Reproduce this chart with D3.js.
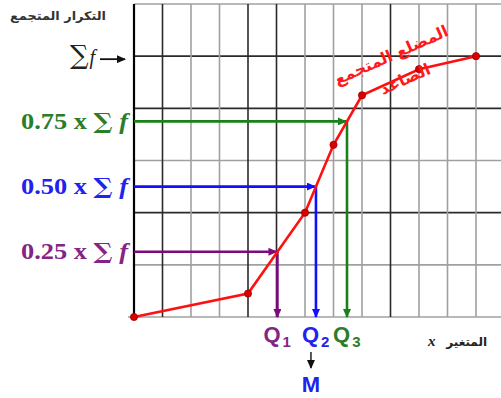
<!DOCTYPE html>
<html>
<head>
<meta charset="utf-8">
<script src="https://cdn.jsdelivr.net/npm/d3@7"></script>
<style>
  body { margin: 0; background: #fff; }
  svg { display: block; }
</style>
</head>
<body>
<div id="chart"></div>
<script>
// values
const xValues = [0, 4, 6, 7, 8, 10, 12];          // class boundaries (grid units)
const cumFreq = [0, 9, 40, 66, 85, 95, 100];      // ascending cumulative frequency
const totalFreq = 100;                            // sum f
const quartileShares = [0.25, 0.50, 0.75];
const shareLabels = ["0.25 x", "0.50 x", "0.75 x"];
const quartileSubs = ["1", "2", "3"];
const xGridTicks = d3.range(0, 13);
const yGridTicks = d3.range(0, 121, 20);

const yTitle = "التكرار المتجمع";
const xTitle = "المتغير";
const curveTitle1 = "المضلع المتجمع";
const curveTitle2 = "الصاعد";

const width = 501, height = 398;
const lineColors = ["#7d0a7d", "#1010ff", "#1a801a"];
const textColors = ["#842484", "#2222ee", "#2a7d2a"];

const x = d3.scaleLinear().domain([0, 12]).range([134, 476]);
const y = d3.scaleLinear().domain([0, 120]).range([317, 4]);

const svg = d3.select("#chart").append("svg")
    .attr("width", width)
    .attr("height", height);

// arrow heads, one per colour
const defs = svg.append("defs");
const markerColors = lineColors.concat(["#111"]);
markerColors.forEach((c, i) => {
    defs.append("marker")
        .attr("id", "arr" + i)
        .attr("markerUnits", "userSpaceOnUse")
        .attr("markerWidth", 9).attr("markerHeight", 8)
        .attr("refX", 8).attr("refY", 4)
        .attr("orient", "auto")
        .append("path")
        .attr("d", "M0,0 L9,4 L0,8 Z")
        .attr("fill", c);
});

// grid
const darkCols = [0, 1, 4, 5, 9];
const darkRows = [100, 80, 40];
svg.append("g").selectAll("line")
    .data(yGridTicks)
    .join("line")
    .attr("x1", d => d === 0 ? 128 : x(0))
    .attr("x2", width)
    .attr("y1", d => y(d)).attr("y2", d => y(d))
    .attr("stroke", d => darkRows.includes(d) ? "#2a2a2a" : "#a0a0a0")
    .attr("stroke-width", 1.6);

svg.append("g").selectAll("line")
    .data(xGridTicks)
    .join("line")
    .attr("x1", d => x(d)).attr("x2", d => x(d))
    .attr("y1", y(120)).attr("y2", y(0))
    .attr("stroke", d => d === 0 ? "#000" : darkCols.includes(d) ? "#2a2a2a" : "#a0a0a0")
    .attr("stroke-width", d => d === 0 ? 2.2 : 1.6);

// x at which the polygon reaches a given cumulative frequency
function xAt(level) {
    for (let i = 0; i < cumFreq.length - 1; i++) {
        if (level >= cumFreq[i] && level <= cumFreq[i + 1]) {
            const t = (level - cumFreq[i]) / (cumFreq[i + 1] - cumFreq[i]);
            return xValues[i] + t * (xValues[i + 1] - xValues[i]);
        }
    }
    return xValues[xValues.length - 1];
}

const quartiles = quartileShares.map((s, i) => {
    const level = s * totalFreq;
    return { level, qx: xAt(level), i };
});

// quartile guide lines
const qg = svg.append("g");
quartiles.forEach(q => {
    qg.append("line")
        .attr("x1", x(0)).attr("x2", x(q.qx) - 1)
        .attr("y1", y(q.level)).attr("y2", y(q.level))
        .attr("stroke", lineColors[q.i]).attr("stroke-width", 2.6)
        .attr("marker-end", `url(#arr${q.i})`);
    qg.append("line")
        .attr("x1", x(q.qx)).attr("x2", x(q.qx))
        .attr("y1", y(q.level)).attr("y2", y(0))
        .attr("stroke", lineColors[q.i]).attr("stroke-width", 2.6)
        .attr("marker-end", `url(#arr${q.i})`);
});

// ogive
const pts = xValues.map((v, i) => [v, cumFreq[i]]);
svg.append("path")
    .datum(pts)
    .attr("fill", "none")
    .attr("stroke", "#ff1010")
    .attr("stroke-width", 2.6)
    .attr("d", d3.line().x(d => x(d[0])).y(d => y(d[1])));

svg.append("g").selectAll("circle")
    .data(pts)
    .join("circle")
    .attr("cx", d => x(d[0])).attr("cy", d => y(d[1]))
    .attr("r", 3.6)
    .attr("fill", "#d80000")
    .attr("stroke", "#a00000").attr("stroke-width", 0.8);

// left labels
const serif = "'Liberation Serif', 'Times New Roman', serif";
const mathSerif = "'DejaVu Serif', serif";
const sans = "'Liberation Sans', Arial, sans-serif";
quartiles.forEach(q => {
    const t = svg.append("text")
        .attr("x", 21)
        .attr("y", y(q.level))
        .attr("dy", "0.33em")
        .attr("fill", textColors[q.i])
        .style("font-family", serif)
        .style("font-weight", "bold")
        .style("font-size", "23px")
        .attr("textLength", 107)
        .attr("lengthAdjust", "spacingAndGlyphs");
    t.append("tspan").text(shareLabels[q.i] + " ");
    t.append("tspan").style("font-family", mathSerif).style("font-size", "22px").text("∑");
    t.append("tspan").style("font-style", "italic").text(" f");
});

// sum f label
const sf = svg.append("text")
    .attr("x", 70).attr("y", y(totalFreq) + 8)
    .attr("fill", "#222");
sf.append("tspan").style("font-family", mathSerif).style("font-size", "26px").text("∑");
sf.append("tspan").style("font-family", serif).style("font-size", "20px").style("font-style", "italic").attr("dx", 1).text("f");
svg.append("line")
    .attr("x1", 100).attr("x2", 125)
    .attr("y1", y(totalFreq) + 3).attr("y2", y(totalFreq) + 3)
    .attr("stroke", "#111").attr("stroke-width", 1.8)
    .attr("marker-end", "url(#arr3)");

// y title
svg.append("text")
    .attr("x", 10).attr("y", 20)
    .attr("fill", "#333")
    .style("font-family", "'DejaVu Sans', sans-serif")
    .style("font-weight", "bold")
    .style("font-size", "12px")
    .attr("textLength", 96)
    .attr("lengthAdjust", "spacingAndGlyphs")
    .text(yTitle);

// x title
svg.append("text")
    .attr("x", 487).attr("y", 346)
    .attr("text-anchor", "end")
    .attr("fill", "#222")
    .style("font-family", "'DejaVu Sans', sans-serif")
    .style("font-weight", "bold")
    .style("font-size", "12px")
    .text(xTitle);
svg.append("text")
    .attr("x", 428).attr("y", 346)
    .attr("fill", "#222")
    .style("font-family", serif)
    .style("font-weight", "bold")
    .style("font-style", "italic")
    .style("font-size", "15px")
    .text("x");

// curve caption
const cap = svg.append("g")
    .attr("fill", "#ff1a1a")
    .style("font-family", "'DejaVu Sans', sans-serif")
    .style("font-weight", "bold")
    .style("font-size", "16px")
    .attr("text-anchor", "middle");
cap.append("text")
    .attr("transform", "translate(391,55) rotate(-24)")
    .attr("dy", "0.35em")
    .text(curveTitle1);
cap.append("text")
    .attr("transform", "translate(405,79) rotate(-24)")
    .attr("dy", "0.35em")
    .text(curveTitle2);

// quartile names under the axis
quartiles.forEach(q => {
    const t = svg.append("text")
        .attr("x", x(q.qx) - 14).attr("y", 342)
        .attr("fill", textColors[q.i])
        .style("font-family", sans)
        .style("font-weight", "bold")
        .style("font-size", "22px");
    t.append("tspan").text("Q");
    t.append("tspan").attr("dx", 2).attr("dy", 5).style("font-size", "15px").text(quartileSubs[q.i]);
});

// median arrow and M
const mx = x(quartiles[1].qx) - 5;
svg.append("line")
    .attr("x1", mx).attr("x2", mx)
    .attr("y1", 352).attr("y2", 368)
    .attr("stroke", "#111").attr("stroke-width", 1.4)
    .attr("marker-end", "url(#arr3)");
svg.append("text")
    .attr("x", mx).attr("y", 392)
    .attr("text-anchor", "middle")
    .attr("fill", "#2222ee")
    .style("font-family", sans)
    .style("font-weight", "bold")
    .style("font-size", "22px")
    .text("M");
</script>
</body>
</html>
